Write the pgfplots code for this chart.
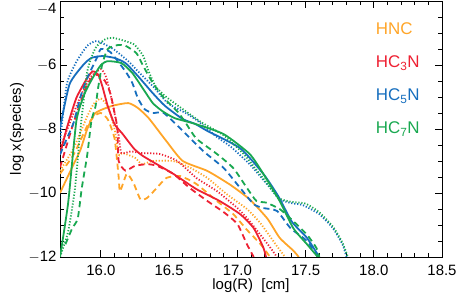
\documentclass[border=0pt]{standalone}
\usepackage{pgfplots}
\pgfplotsset{compat=1.18}
\usepackage{fontspec}
\setmainfont{Liberation Sans}
\definecolor{cO}{RGB}{255,165,40}
\definecolor{cR}{RGB}{238,32,50}
\definecolor{cB}{RGB}{22,110,190}
\definecolor{cG}{RGB}{25,168,80}
\begin{document}
\begin{tikzpicture}[x=1bp,y=1bp]
\path[use as bounding box] (-60bp,-44bp) rectangle (398bp,257bp);
\begin{axis}[
  scale only axis, width=382bp, height=256bp,
  xmin=15.7, xmax=18.5, ymin=-12, ymax=-4,
  xtick={16,16.5,17,17.5,18,18.5},
  xticklabels={16.0,16.5,17.0,17.5,18.0,18.5},
  minor x tick num=4,
  ytick={-12,-10,-8,-6,-4},
  yticklabels={$-$12,$-$10,$-$8,$-$6,\raisebox{-12.5bp}[0pt][0pt]{$-$4}},
  minor y tick num=3,
  tick align=inside, major tick length=7bp, minor tick length=4bp,
  tick style={black, line width=0.9pt},
  axis line style={line width=0.9pt},
  ticks=both, xtick pos=both, ytick pos=both,
  tick label style={font=\fontsize{15}{15}\selectfont},
  xticklabel style={yshift=-5bp},
  xlabel={log(R) \ [cm]}, ylabel={log x(species)},
  label style={font=\fontsize{15}{15}\selectfont},
  xlabel style={yshift=4bp},
  ylabel style={yshift=-2bp},
  every axis plot/.append style={line width=1.8pt, smooth, tension=0.35},
  clip=true,
]
% HNC
\addplot[cO] coordinates {(15.7,-10.0) (15.75,-9.55) (15.8,-9.1) (15.85,-8.65) (15.9,-8.0) (15.96,-7.5) (16.08,-7.28) (16.2,-7.19) (16.27,-7.34) (16.35,-7.66) (16.48,-8.38) (16.6,-9.0) (16.78,-9.31) (16.95,-9.75) (17.09,-10.2) (17.22,-10.8) (17.31,-11.4) (17.41,-11.8) (17.45,-12.0)};
\addplot[cO, dash pattern=on 6bp off 4bp] coordinates {(15.7,-9.4) (15.8,-8.8) (15.9,-7.9) (15.95,-7.6) (16.0,-7.5) (16.05,-7.7) (16.1,-8.3) (16.13,-9.5) (16.14,-9.95) (16.19,-9.4) (16.24,-9.7) (16.29,-10.2) (16.34,-10.15) (16.41,-9.84) (16.48,-9.53) (16.58,-9.47) (16.7,-9.72) (16.85,-10.25) (16.97,-10.66) (17.07,-11.15) (17.17,-11.6) (17.24,-12)};
\addplot[cO, dash pattern=on 1.2bp off 1.8bp] coordinates {(15.7,-9.3) (15.8,-8.6) (15.9,-7.6) (15.95,-7.2) (16.0,-7.05) (16.05,-7.3) (16.1,-8.0) (16.13,-8.8) (16.16,-8.75) (16.25,-8.9) (16.3,-9.1) (16.38,-9.0) (16.53,-9.0) (16.65,-9.2) (16.78,-9.53) (16.92,-10.03) (17.07,-10.5) (17.17,-10.95) (17.29,-11.66) (17.35,-12)};
% HC3N
\addplot[cR] coordinates {(15.7,-8.8) (15.75,-7.97) (15.82,-7.03) (15.9,-6.4) (15.94,-6.2) (15.98,-6.3) (16.01,-6.66) (16.05,-7.28) (16.1,-7.85) (16.16,-8.16) (16.24,-8.6) (16.31,-8.85) (16.53,-9.4) (16.7,-9.88) (16.87,-10.25) (17.02,-10.66) (17.12,-11.1) (17.19,-11.7) (17.21,-12)};
\addplot[cR, dash pattern=on 6bp off 4bp] coordinates {(15.7,-9.2) (15.8,-7.8) (15.9,-6.6) (15.97,-6.3) (16.03,-6.5) (16.07,-6.9) (16.1,-7.5) (16.12,-7.97) (16.13,-9.0) (16.18,-9.3) (16.25,-9.15) (16.34,-9.1) (16.41,-9.15) (16.53,-9.4) (16.65,-9.84) (16.78,-10.25) (16.9,-10.6) (17.0,-10.97) (17.07,-11.6) (17.12,-12)};
\addplot[cR, dash pattern=on 1.2bp off 1.8bp] coordinates {(15.7,-8.6) (15.8,-7.5) (15.87,-6.8) (15.93,-6.35) (16.0,-6.13) (16.04,-6.4) (16.09,-7.3) (16.13,-8.2) (16.15,-8.75) (16.22,-8.7) (16.29,-8.75) (16.43,-8.78) (16.56,-9.0) (16.7,-9.53) (16.85,-9.94) (17.0,-10.47) (17.09,-10.88) (17.24,-11.7) (17.29,-12)};
% HC5N
\addplot[cB] coordinates {(15.7,-7.97) (15.77,-6.6) (15.87,-6.0) (15.93,-5.78) (16.01,-5.72) (16.1,-5.78) (16.18,-5.94) (16.27,-6.34) (16.38,-6.88) (16.47,-7.28) (16.6,-7.69) (16.69,-7.84) (16.78,-8.06) (17.02,-8.6) (17.19,-9.4) (17.3,-10.1) (17.4,-10.9) (17.51,-11.4) (17.6,-12)};
\addplot[cB, dash pattern=on 6bp off 4bp] coordinates {(15.7,-8.8) (15.75,-8.3) (15.8,-7.8) (15.85,-7.0) (15.9,-6.4) (15.97,-5.78) (16.0,-5.5) (16.07,-5.6) (16.18,-6.2) (16.23,-6.56) (16.27,-7.03) (16.32,-7.38) (16.38,-7.5) (16.46,-7.5) (16.6,-8.06) (16.75,-8.69) (16.9,-9.22) (17.02,-9.84) (17.12,-10.35) (17.19,-10.47) (17.29,-10.56) (17.39,-11.1) (17.51,-11.5) (17.59,-12)};
\addplot[cB, dash pattern=on 1.2bp off 1.8bp] coordinates {(15.7,-8.4) (15.75,-6.6) (15.82,-5.9) (15.9,-5.4) (15.97,-5.25) (16.09,-5.5) (16.2,-5.88) (16.27,-6.19) (16.38,-6.66) (16.49,-7.19) (16.62,-7.5) (16.71,-7.75) (16.85,-8.25) (16.95,-8.55) (17.09,-9.1) (17.24,-9.84) (17.31,-10.2) (17.4,-10.32) (17.48,-10.38) (17.6,-10.66) (17.7,-11.1) (17.77,-11.6) (17.8,-12)};
% HC7N
\addplot[cG] coordinates {(15.7,-12) (15.76,-10.3) (15.82,-7.75) (15.88,-6.9) (15.94,-6.4) (16.0,-6.0) (16.05,-5.88) (16.15,-5.94) (16.23,-6.25) (16.31,-6.75) (16.38,-7.19) (16.45,-7.44) (16.54,-7.66) (16.69,-7.84) (16.9,-8.16) (17.09,-8.78) (17.19,-9.4) (17.31,-10.25) (17.41,-11.1) (17.51,-11.6) (17.59,-12)};
\addplot[cG, dash pattern=on 6bp off 4bp] coordinates {(15.74,-11.6) (15.79,-11.1) (15.83,-10.8) (15.86,-9.84) (15.9,-8.8) (15.93,-7.75) (15.96,-7.3) (15.98,-6.7) (16.01,-5.97) (16.05,-5.5) (16.12,-5.38) (16.18,-5.4) (16.26,-5.63) (16.31,-6.03) (16.38,-6.56) (16.45,-6.97) (16.52,-7.28) (16.57,-7.5) (16.62,-7.8) (16.7,-8.3) (16.85,-8.78) (16.97,-9.22) (17.07,-9.84) (17.14,-10.25) (17.21,-10.3) (17.31,-10.5) (17.41,-10.88) (17.51,-11.3) (17.58,-11.72) (17.6,-12)};
\addplot[cG, dash pattern=on 1.2bp off 1.8bp] coordinates {(15.7,-12) (15.76,-11.2) (15.81,-9.85) (15.85,-8.0) (15.9,-6.2) (15.96,-5.47) (16.03,-5.2) (16.09,-5.15) (16.24,-5.35) (16.31,-5.72) (16.35,-6.2) (16.4,-6.66) (16.47,-6.97) (16.6,-7.38) (16.74,-7.8) (16.9,-8.2) (17.05,-8.8) (17.2,-9.6) (17.3,-10.15) (17.4,-10.28) (17.5,-10.33) (17.6,-10.6) (17.7,-11.05) (17.77,-11.55) (17.81,-12)};
\node[anchor=west, text=cO, font=\fontsize{17}{17}\selectfont] at (axis cs:17.99,-4.87) {HNC};
\node[anchor=west, text=cR, font=\fontsize{17}{17}\selectfont] at (axis cs:17.99,-5.94) {HC\textsubscript{3}N};
\node[anchor=west, text=cB, font=\fontsize{17}{17}\selectfont] at (axis cs:17.99,-6.97) {HC\textsubscript{5}N};
\node[anchor=west, text=cG, font=\fontsize{17}{17}\selectfont] at (axis cs:17.99,-8.0) {HC\textsubscript{7}N};
\end{axis}
\end{tikzpicture}
\end{document}
